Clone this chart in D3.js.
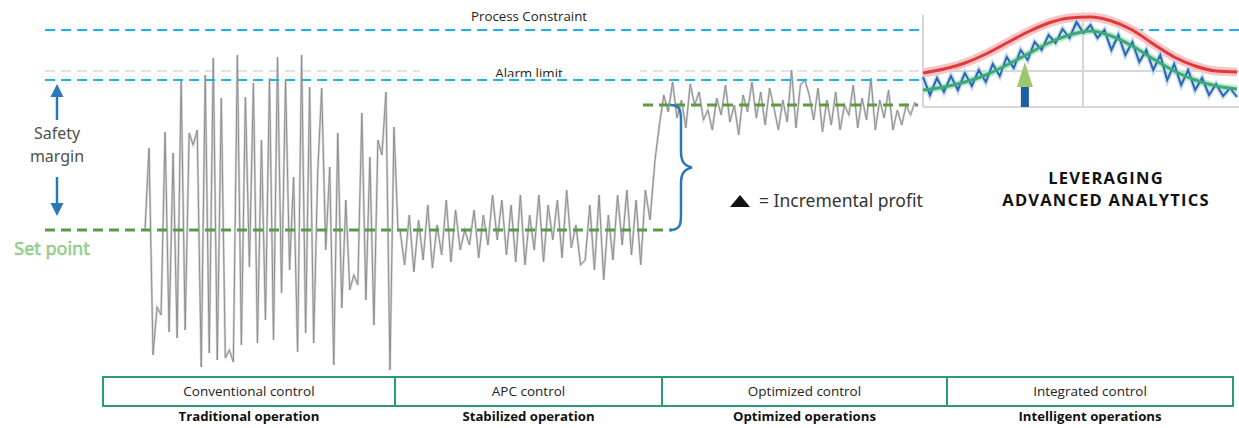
<!DOCTYPE html>
<html>
<head>
<meta charset="utf-8">
<script src="https://cdn.jsdelivr.net/npm/d3@7"></script>
<style>
  body { margin: 0; background: #fff; }
  #wrapper { width: 1239px; height: 428px; }
</style>
</head>
<body>
<div id="wrapper"></div>
<script>
// ---- data ----
// process value (0 = bottom of the trace area, 340 = process constraint)
const limitNames = ["Process Constraint", "Alarm limit"]
const processConstraint = 340
const alarmLimit = 290
const alarmBand = 299
const setPoint = 140
const optimizedSetPoint = 265

// time spans of each phase of the trace
const conventionalSpan = [0, 253]
const apcSpan = [255, 505]
const optimizedSpan = [510, 770]

const conventionalValues = [140, 222, 15, 63, 55, 238, 38, 217, 32, 290, 40, 237, 225, 240, 3, 295, 17, 312,
  10, 272, 12, 20, 8, 315, 25, 273, 103, 287, 27, 230, 50, 292, 30, 313, 77, 290, 100, 193, 18, 315, 37, 283,
  27, 197, 282, 120, 203, 5, 237, 62, 170, 80, 95, 85, 257, 70, 213, 45, 230, 215, 278, 0, 243, 140]
const apcValues = [140, 105, 155, 98, 150, 110, 165, 102, 145, 115, 170, 108, 160, 120, 140, 125, 160, 112,
  155, 125, 175, 130, 170, 115, 165, 108, 175, 105, 155, 120, 175, 108, 165, 130, 170, 112, 180, 122, 145, 105,
  110, 165, 100, 175, 90, 155, 110, 175, 125, 180, 115, 170, 105, 180, 150]
const optimizedValues = [210, 245, 275, 258, 288, 252, 270, 242, 286, 265, 278, 250, 260, 240, 272, 255, 285,
  248, 265, 235, 275, 258, 288, 252, 278, 245, 282, 262, 240, 270, 248, 300, 242, 285, 290, 275, 250, 282, 238,
  270, 245, 278, 240, 265, 255, 285, 242, 272, 250, 292, 240, 270, 252, 280, 240, 260, 245, 265, 255, 268]

// inset (analytics) curves, x = sample index 0..45
const insetRed = [34, 38, 44, 53, 64, 75, 84, 89, 90, 86, 77, 63, 50, 41, 36, 35]
const insetGreen = [17, 20, 25, 32, 42, 53, 64, 72, 76, 71, 61, 48, 36, 27, 21, 18]
const insetBlue = [30, 12, 29, 15, 31, 17, 34, 21, 37, 25, 43, 31, 50, 39, 57, 47, 65, 57, 72, 64, 78, 69,
  85, 74, 82, 69, 77, 57, 72, 52, 65, 45, 57, 37, 52, 27, 43, 22, 37, 17, 29, 12, 23, 11, 19, 10]
const insetArrow = { at: 14.6, tip: 45, headBase: 20, base: 0 }

const controlLabels = ["Conventional control", "APC control", "Optimized control", "Integrated control"]
const operationLabels = ["Traditional operation", "Stabilized operation", "Optimized operations", "Intelligent operations"]

async function drawChart() {
  const dimensions = {
    width: 1239,
    height: 428,
    lineLeft: 45,
    traceLeft: 145,
    traceRight: 915,
    traceTop: 30,
    traceBottom: 370,
  }

  const cyan = "#1cb4ee"
  const green = "#5a9b40"
  const blue = "#2a78b8"

  const svg = d3.select("#wrapper")
    .html("")
    .append("svg")
    .attr("width", dimensions.width)
    .attr("height", dimensions.height)
    .style("font-family", "'Open Sans', sans-serif")

  const xScaler = d3.scaleLinear()
    .domain([0, 770])
    .range([dimensions.traceLeft, dimensions.traceRight])
  const yScaler = d3.scaleLinear()
    .domain([0, 340])
    .range([dimensions.traceBottom, dimensions.traceTop])

  // build the trace points, evenly spread inside each phase
  const spread = (values, span) => values.map((v, i) => ({
    t: span[0] + (span[1] - span[0]) * i / (values.length - 1),
    v: v
  }))
  const trace = [
    ...spread(conventionalValues, conventionalSpan),
    ...spread(apcValues, apcSpan),
    ...spread(optimizedValues, optimizedSpan)
  ]

  // faint grey band just above alarm limit
  svg.append("line")
    .attr("x1", dimensions.lineLeft).attr("x2", 920)
    .attr("y1", yScaler(alarmBand)).attr("y2", yScaler(alarmBand))
    .attr("stroke", "#dcdcdc").attr("stroke-width", 1.5)
    .attr("stroke-dasharray", "10,6")

  // white box behind the alarm text
  svg.append("rect")
    .attr("x", 420).attr("y", 60).attr("width", 220).attr("height", 17)
    .attr("fill", "#fff")

  // the process trace
  const line = d3.line()
    .x(d => xScaler(d.t))
    .y(d => yScaler(d.v))
  svg.append("path")
    .datum(trace)
    .attr("d", line)
    .attr("fill", "none")
    .attr("stroke", "#d4d4d4")
    .attr("stroke-width", 2.4)
  svg.append("path")
    .datum(trace)
    .attr("d", line)
    .attr("fill", "none")
    .attr("stroke", "#8f8f8f")
    .attr("stroke-width", 1)

  // set point lines
  svg.append("line")
    .attr("x1", dimensions.lineLeft).attr("x2", 672)
    .attr("y1", yScaler(setPoint)).attr("y2", yScaler(setPoint))
    .attr("stroke", green).attr("stroke-width", 3)
    .attr("stroke-dasharray", "10,6")
  svg.append("line")
    .attr("x1", 643).attr("x2", 918)
    .attr("y1", yScaler(optimizedSetPoint)).attr("y2", yScaler(optimizedSetPoint))
    .attr("stroke", green).attr("stroke-width", 3)
    .attr("stroke-dasharray", "10,6")

  // limits
  svg.append("line")
    .attr("x1", dimensions.lineLeft).attr("x2", 920)
    .attr("y1", yScaler(alarmLimit)).attr("y2", yScaler(alarmLimit))
    .attr("stroke", cyan).attr("stroke-width", 2)
    .attr("stroke-dasharray", "10,6")
  svg.append("line")
    .attr("x1", dimensions.lineLeft).attr("x2", dimensions.width)
    .attr("y1", yScaler(processConstraint)).attr("y2", yScaler(processConstraint))
    .attr("stroke", cyan).attr("stroke-width", 2)
    .attr("stroke-dasharray", "10,6")

  svg.append("text")
    .attr("x", 529).attr("y", 21)
    .attr("text-anchor", "middle")
    .attr("font-size", "13.3px")
    .attr("fill", "#222")
    .text(limitNames[0])

  svg.append("clipPath").attr("id", "alarmClip")
    .append("rect").attr("x", 400).attr("y", 55).attr("width", 260).attr("height", 22)
  svg.append("text")
    .attr("x", 529).attr("y", 77.5)
    .attr("text-anchor", "middle")
    .attr("font-size", "13.3px")
    .attr("fill", "#222")
    .attr("clip-path", "url(#alarmClip)")
    .text(limitNames[1])

  // safety margin arrows + text
  const arrowHead = (x, tipY, dir) => `M${x},${tipY} L${x - 6.5},${tipY + dir * 13} L${x + 6.5},${tipY + dir * 13} Z`
  svg.append("line").attr("x1", 57).attr("x2", 57).attr("y1", 95).attr("y2", 120)
    .attr("stroke", blue).attr("stroke-width", 2.5)
  svg.append("path").attr("d", arrowHead(57, 84, 1)).attr("fill", blue)
  svg.append("line").attr("x1", 57).attr("x2", 57).attr("y1", 177).attr("y2", 205)
    .attr("stroke", blue).attr("stroke-width", 2.5)
  svg.append("path").attr("d", arrowHead(57, 216, -1)).attr("fill", blue)

  const sideFont = "'Noto Sans', sans-serif"
  svg.append("text")
    .attr("x", 57).attr("y", 139)
    .attr("text-anchor", "middle")
    .attr("font-family", sideFont)
    .attr("font-size", "16px")
    .attr("fill", "#505050")
    .text("Safety")
  svg.append("text")
    .attr("x", 57).attr("y", 162)
    .attr("text-anchor", "middle")
    .attr("font-family", sideFont)
    .attr("font-size", "16px")
    .attr("fill", "#505050")
    .text("margin")
  svg.append("text")
    .attr("x", 52).attr("y", 255)
    .attr("text-anchor", "middle")
    .attr("font-family", sideFont)
    .attr("font-size", "18px")
    .attr("fill", "#9fd49a")
    .attr("stroke", "#86bf80")
    .attr("stroke-width", 0.5)
    .text("Set point")

  // brace between the two set points
  const yTop = yScaler(optimizedSetPoint), yBot = yScaler(setPoint), yMid = (yTop + yBot) / 2
  const brace = `M670,${yTop} C682,${yTop} 681,${yTop + 8} 681,${yTop + 20}
    L681,${yMid - 16} C681,${yMid - 6} 684,${yMid - 2} 692,${yMid}
    C684,${yMid + 2} 681,${yMid + 6} 681,${yMid + 16}
    L681,${yBot - 20} C681,${yBot - 8} 682,${yBot} 670,${yBot}`
  svg.append("path")
    .attr("d", brace)
    .attr("fill", "none")
    .attr("stroke", blue)
    .attr("stroke-width", 2.5)

  svg.append("path")
    .attr("d", "M740,195 L750,207 L730,207 Z")
    .attr("fill", "#111")
  svg.append("text")
    .attr("x", 759).attr("y", 207)
    .attr("font-family", sideFont)
    .attr("font-size", "17.5px")
    .attr("fill", "#333")
    .text("= Incremental profit")

  // ---- inset ----
  const inset = svg.append("g")
  inset.append("rect")
    .attr("x", 921).attr("y", 11).attr("width", 218).attr("height", 97)
    .attr("fill", "#fff")
  const ix = d3.scaleLinear().domain([0, 45]).range([923, 1237])
  const iy = d3.scaleLinear().domain([0, 90]).range([107, 17])

  const grid = [
    [923, 15, 923, 107], [1083, 12, 1083, 107],
    [923, 71, 1239, 71], [923, 107, 1239, 107]
  ]
  inset.selectAll(".grid")
    .data(grid)
    .enter()
    .append("line")
    .attr("x1", d => d[0]).attr("y1", d => d[1])
    .attr("x2", d => d[2]).attr("y2", d => d[3])
    .attr("stroke", "#d6d6d6")
    .attr("stroke-width", 2)

  const smooth = d3.line()
    .x((d, i) => ix(i * 3))
    .y(d => iy(d))
    .curve(d3.curveMonotoneX)
  const jagged = d3.line()
    .x((d, i) => ix(i))
    .y(d => iy(d))

  inset.append("path").datum(insetRed).attr("d", smooth)
    .attr("fill", "none").attr("stroke", "#f6c6c6").attr("stroke-width", 9)
  inset.append("path").datum(insetBlue).attr("d", jagged)
    .attr("fill", "none").attr("stroke", "#c6dcef").attr("stroke-width", 5)
  inset.append("path").datum(insetRed).attr("d", smooth)
    .attr("fill", "none").attr("stroke", "#e0383c").attr("stroke-width", 3)
  inset.append("path").datum(insetGreen).attr("d", smooth)
    .attr("fill", "none").attr("stroke", "#bfe6cf").attr("stroke-width", 7)
  inset.append("path").datum(insetBlue).attr("d", jagged)
    .attr("fill", "none").attr("stroke", "#2c68b0").attr("stroke-width", 2)
  inset.append("path").datum(insetGreen).attr("d", smooth)
    .attr("fill", "none").attr("stroke", "#3aaa7a").attr("stroke-width", 3)

  // incremental profit arrow in the inset
  const ax = ix(insetArrow.at)
  inset.append("rect")
    .attr("x", ax - 4).attr("width", 8)
    .attr("y", iy(insetArrow.headBase)).attr("height", iy(insetArrow.base) - iy(insetArrow.headBase))
    .attr("fill", "#1d5fa6")
  inset.append("path")
    .attr("d", `M${ax},${iy(insetArrow.tip)} L${ax - 8},${iy(insetArrow.headBase)} L${ax + 8},${iy(insetArrow.headBase)} Z`)
    .attr("fill", "#9cc86c")

  svg.append("text")
    .attr("x", 1106).attr("y", 184)
    .attr("text-anchor", "middle")
    .attr("font-weight", "bold")
    .attr("font-size", "16.5px")
    .attr("letter-spacing", "1.2px")
    .attr("fill", "#111")
    .text("LEVERAGING")
  svg.append("text")
    .attr("x", 1106).attr("y", 206)
    .attr("text-anchor", "middle")
    .attr("font-weight", "bold")
    .attr("font-size", "16.5px")
    .attr("letter-spacing", "1.2px")
    .attr("fill", "#111")
    .text("ADVANCED ANALYTICS")

  // ---- phase boxes ----
  const boxEdges = [103, 395, 662, 947, 1233]
  const boxes = svg.append("g")
  boxes.selectAll("rect")
    .data(controlLabels)
    .enter()
    .append("rect")
    .attr("x", (d, i) => boxEdges[i])
    .attr("y", 377)
    .attr("width", (d, i) => boxEdges[i + 1] - boxEdges[i])
    .attr("height", 29)
    .attr("fill", "none")
    .attr("stroke", "#2a9c7c")
    .attr("stroke-width", 2)
  boxes.selectAll(".control")
    .data(controlLabels)
    .enter()
    .append("text")
    .attr("x", (d, i) => (boxEdges[i] + boxEdges[i + 1]) / 2)
    .attr("y", 396)
    .attr("text-anchor", "middle")
    .attr("font-size", "13.5px")
    .attr("fill", "#222")
    .text(d => d)
  boxes.selectAll(".operation")
    .data(operationLabels)
    .enter()
    .append("text")
    .attr("x", (d, i) => (boxEdges[i] + boxEdges[i + 1]) / 2)
    .attr("y", 421)
    .attr("text-anchor", "middle")
    .attr("font-size", "13.2px")
    .attr("font-weight", "bold")
    .attr("fill", "#111")
    .text(d => d)
}

drawChart()
</script>
</body>
</html>
